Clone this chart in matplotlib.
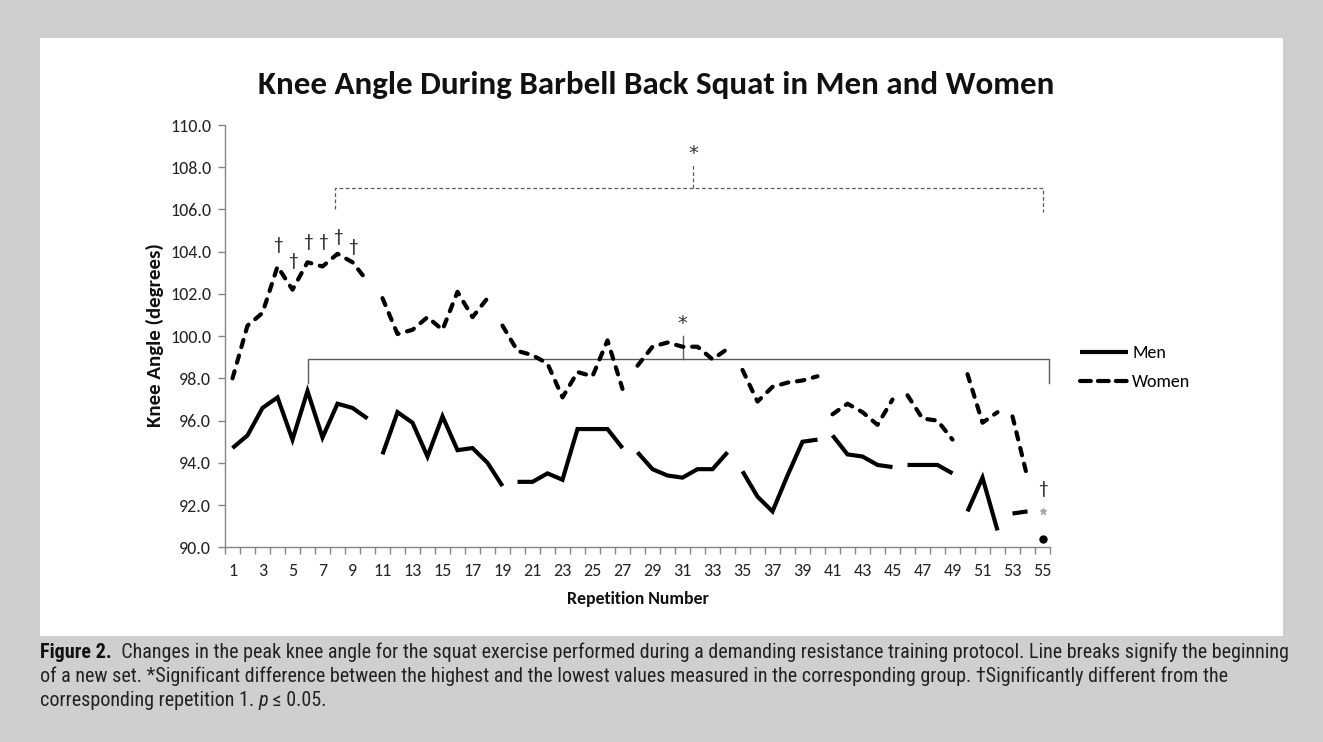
import matplotlib
matplotlib.use('Agg')
import matplotlib.pyplot as plt
from matplotlib import font_manager
from matplotlib.lines import Line2D
from matplotlib.patches import Rectangle
import numpy as np

# ---------------- data ----------------
reps = list(range(1, 56))
men = [94.7, 95.3, 96.6, 97.1, 95.1, 97.4, 95.2, 96.8, 96.6, 96.1,
       94.4, 96.4, 95.9, 94.3, 96.2, 94.6, 94.7, 94.0, 92.9,
       93.1, 93.1, 93.5, 93.2, 95.6, 95.6, 95.6, 94.7,
       94.5, 93.7, 93.4, 93.3, 93.7, 93.7, 94.5,
       93.6, 92.4, 91.7, 93.4, 95.0, 95.1,
       95.3, 94.4, 94.3, 93.9, 93.8,
       93.9, 93.9, 93.9, 93.5,
       91.7, 93.3, 90.8,
       91.6, 91.7,
       90.4]
women = [98.0, 100.5, 101.1, 103.3, 102.2, 103.5, 103.3, 103.9, 103.5, 102.6,
         101.8, 100.1, 100.3, 100.9, 100.3, 102.1, 100.9, 101.8,
         100.5, 99.3, 99.1, 98.7, 97.1, 98.3, 98.1, 99.8, 97.5,
         98.6, 99.5, 99.7, 99.5, 99.5, 98.9, 99.4,
         98.4, 96.9, 97.6, 97.8, 97.9, 98.1,
         96.3, 96.8, 96.4, 95.8, 97.0,
         97.2, 96.1, 96.0, 95.1,
         98.2, 95.9, 96.4,
         96.2, 93.3,
         91.7]
men_set_starts = [1, 11, 20, 28, 35, 41, 46, 50, 53, 55]
women_set_starts = [1, 11, 19, 28, 35, 41, 46, 50, 53, 55]

dagger_reps = [4, 5, 6, 7, 8, 9, 55]
dagger_vals = [104.3, 103.55, 104.45, 104.45, 104.7, 104.2, 92.75]

yticks = [90, 92, 94, 96, 98, 100, 102, 104, 106, 108, 110]
xtick_reps = list(range(1, 56, 2))

# significance brackets
men_bracket = dict(left=6, right=55.4, level=98.9, left_end=97.8, right_end=97.8, mid=31, mid_top=100.0, star=100.15)
women_bracket = dict(left=7.8, right=55.0, level=107.0, left_end=106.0, right_end=105.9, mid=31.7, mid_top=108.1, star=108.2)

title = "Knee Angle During Barbell Back Squat in Men and Women"
ylabel = "Knee Angle (degrees)"
xlabel = "Repetition Number"
caption1_bold = "Figure 2."
caption1 = "  Changes in the peak knee angle for the squat exercise performed during a demanding resistance training protocol. Line breaks signify the beginning"
caption2 = "of a new set. *Significant difference between the highest and the lowest values measured in the corresponding group. \u2020Significantly different from the"
caption3a = "corresponding repetition 1. "
caption3b = "p"
caption3c = " \u2264 0.05."


def pick(fams):
    for f in fams:
        try:
            font_manager.findfont(font_manager.FontProperties(family=f), fallback_to_default=False)
            return f
        except Exception:
            pass
    return 'DejaVu Sans'


chart_font = pick(['Carlito', 'Lato', 'Open Sans'])
cap_font = pick(['Liberation Sans Narrow', 'Roboto Condensed', 'Liberation Sans'])
plt.rcParams['font.family'] = [chart_font, 'DejaVu Sans']

W, H = 1323, 742
fig = plt.figure(figsize=(W / 100, H / 100), dpi=100)
fig.patch.set_facecolor('#cfcfcf')
fig.add_artist(Rectangle((40 / W, 1 - 636 / H), (1283 - 40) / W, (636 - 38) / H,
                         transform=fig.transFigure, facecolor='white', edgecolor='none', zorder=-1))

ax = fig.add_axes([225 / W, 1 - 547.3 / H, (1050 - 225) / W, (547.3 - 125) / H])
ax.set_facecolor('none')
ax.set_xlim(0.5, 55.5)
ax.set_ylim(90, 110)
for s in ['top', 'right']:
    ax.spines[s].set_visible(False)
for s in ['left', 'bottom']:
    ax.spines[s].set_color('#868686')
    ax.spines[s].set_linewidth(1.0)

ax.set_yticks(yticks)
ax.set_yticklabels([f"{v:.1f}" for v in yticks])
ax.tick_params(axis='y', length=5, width=1, color='#868686', labelsize=13, pad=5, labelcolor='#222222')
ax.set_xticks(xtick_reps)
ax.set_xticklabels([str(r) for r in xtick_reps])
ax.set_xticks(np.arange(0.5, len(reps) + 1, 1.0), minor=True)
ax.tick_params(axis='x', which='major', length=0, labelsize=13, pad=11, labelcolor='#222222')
ax.tick_params(axis='x', which='minor', length=5, width=1, color='#868686')

LW = 3.0
women_dash = (0, (1.8, 2.1))


def draw(vals, starts, solid):
    for i, s in enumerate(starts):
        e = starts[i + 1] - 1 if i + 1 < len(starts) else len(reps)
        xs = reps[s - 1:e]
        ys = vals[s - 1:e]
        if len(xs) == 1:
            if solid:
                ax.plot(xs, ys, marker='o', ms=5, color='black', ls='none', zorder=3)
            else:
                ax.plot(xs, ys, marker='*', ms=5, color='#aaaaaa', ls='none', zorder=3)
        elif solid:
            ax.plot(xs, ys, color='black', lw=LW, solid_capstyle='butt', solid_joinstyle='miter', zorder=3)
        else:
            ax.plot(xs, ys, color='black', lw=LW, ls=women_dash, dash_capstyle='round', zorder=3)


draw(men, men_set_starts, True)
draw(women, women_set_starts, False)

# brackets
bc = '#5a5a5a'
b = men_bracket
ax.plot([b['left'], b['left'], b['right'], b['right']], [b['left_end'], b['level'], b['level'], b['right_end']],
        color=bc, lw=1.0, zorder=2, clip_on=False)
ax.plot([b['mid'], b['mid']], [b['level'], b['mid_top']], color=bc, lw=1.0, zorder=2)
ax.text(b['mid'], b['star'], '*', ha='center', va='bottom', fontsize=14, color='#333333', family='DejaVu Sans')
b = women_bracket
ax.plot([b['left'], b['left'], b['right'], b['right']], [b['left_end'], b['level'], b['level'], b['right_end']],
        color=bc, lw=0.9, ls=(0, (3, 2)), zorder=2)
ax.plot([b['mid'], b['mid']], [b['level'], b['mid_top']], color=bc, lw=0.9, ls=(0, (3, 2)), zorder=2)
ax.text(b['mid'], b['star'], '*', ha='center', va='bottom', fontsize=14, color='#333333', family='DejaVu Sans')

for r, v in zip(dagger_reps, dagger_vals):
    ax.text(r, v, '\u2020', ha='center', va='center', fontsize=14, color='#222222')

# legend
handles = [Line2D([], [], color='black', lw=LW, solid_capstyle='butt'),
           Line2D([], [], color='black', lw=LW, ls=(0, (2.6, 1.7)), dash_capstyle='round')]
fig.legend(handles, ['Men', 'Women'], loc='center left', bbox_to_anchor=(1080 / W, 1 - 367.5 / H),
           frameon=False, fontsize=13, handlelength=2.65, handletextpad=0.25, labelspacing=0.72,
           borderaxespad=0, borderpad=0)

fig.text(656 / W, 1 - 85 / H, title, ha='center', va='center', fontsize=23.8, fontweight='bold', color='#111111')
fig.text(155 / W, 1 - 335 / H, ylabel, ha='center', va='center', rotation=90, fontsize=15, fontweight='bold', color='#111111')
fig.text(638 / W, 1 - 599 / H, xlabel, ha='center', va='center', fontsize=12.8, fontweight='bold', color='#111111')

# caption
renderer = fig.canvas.get_renderer()


def width_of(t):
    return t.get_window_extent(renderer).width


cfs = 11.5
for _ in range(3):
    t1 = fig.text(40 / W, 1 - 652 / H, caption1_bold, fontsize=cfs, fontweight='bold', family=[cap_font, 'DejaVu Sans'],
                  va='center', ha='left', color='#111111')
    t2 = fig.text(0, 0, caption1, fontsize=cfs, family=[cap_font, 'DejaVu Sans'], va='center', ha='left', color='#222222')
    total = width_of(t1) + width_of(t2)
    t1.remove(); t2.remove()
    cfs = cfs * 1250 / total

x0 = 40
t1 = fig.text(x0 / W, 1 - 652 / H, caption1_bold, fontsize=cfs, fontweight='bold', family=[cap_font, 'DejaVu Sans'],
              va='center', ha='left', color='#111111')
w1 = width_of(t1)
fig.text((x0 + w1) / W, 1 - 652 / H, caption1, fontsize=cfs, family=[cap_font, 'DejaVu Sans'], va='center', ha='left', color='#222222')
fig.text(x0 / W, 1 - 676 / H, caption2, fontsize=cfs, family=[cap_font, 'DejaVu Sans'], va='center', ha='left', color='#222222')
t3 = fig.text(x0 / W, 1 - 700 / H, caption3a, fontsize=cfs, family=[cap_font, 'DejaVu Sans'], va='center', ha='left', color='#222222')
w3 = width_of(t3)
t4 = fig.text((x0 + w3) / W, 1 - 700 / H, caption3b, fontsize=cfs, style='italic', family=[cap_font, 'DejaVu Sans'], va='center', ha='left', color='#222222')
w4 = width_of(t4)
fig.text((x0 + w3 + w4) / W, 1 - 700 / H, caption3c, fontsize=cfs, family=[cap_font, 'DejaVu Sans'], va='center', ha='left', color='#222222')

fig.savefig('out.png', dpi=100, facecolor=fig.get_facecolor())
